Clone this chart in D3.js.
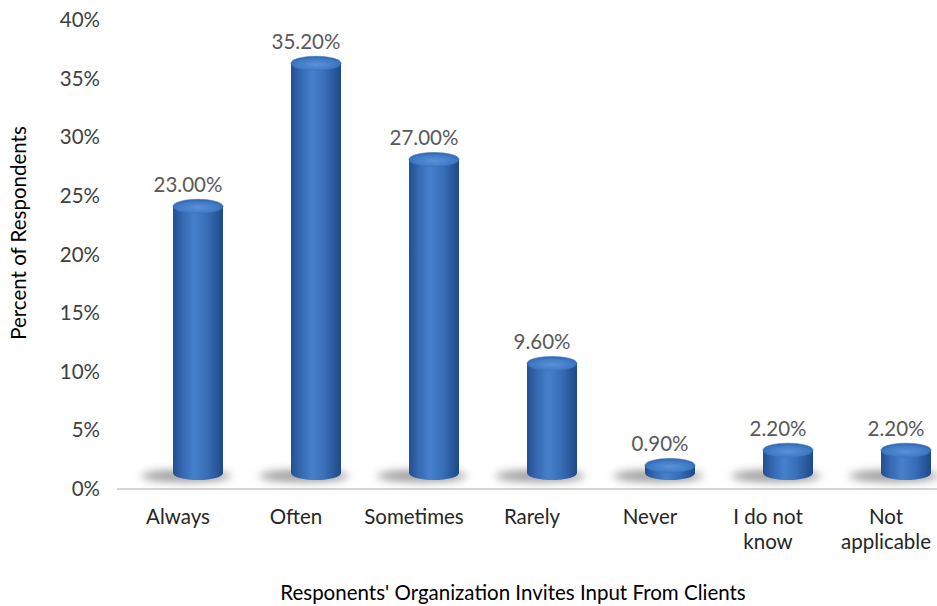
<!DOCTYPE html>
<html>
<head>
<meta charset="utf-8">
<script src="https://cdn.jsdelivr.net/npm/d3@7"></script>
<style>
  html, body { margin: 0; padding: 0; background: #ffffff; }
  svg { display: block; }
  text { font-family: "Lato", "Open Sans", "DejaVu Sans", sans-serif; }
</style>
</head>
<body>
<svg id="chart" width="937" height="606"></svg>
<script>
// Survey responses: how often the respondent's organization invites client input
const categories = ["Always", "Often", "Sometimes", "Rarely", "Never", "I do not know", "Not applicable"];
const categoryLines = [["Always"], ["Often"], ["Sometimes"], ["Rarely"], ["Never"], ["I do not", "know"], ["Not", "applicable"]];
const percentValues = [23.0, 35.2, 27.0, 9.6, 0.9, 2.2, 2.2];
const tickValues = [0, 5, 10, 15, 20, 25, 30, 35, 40];

const svg = d3.select("#chart");
const W = 937, H = 606;
const FS = 20.5;

const x = d3.scaleBand().domain(categories).range([119, 945]).paddingInner(0).paddingOuter(0);
const y = d3.scaleLinear().domain([0, 40]).range([489, 20]);

const defs = svg.append("defs");

// Horizontal shading of the cylinder body
const bodyGrad = defs.append("linearGradient").attr("id", "bodyGrad")
  .attr("x1", "0%").attr("x2", "100%").attr("y1", "0%").attr("y2", "0%");
[["0%", "#244f8e"], ["18%", "#3467b0"], ["42%", "#4680cc"], ["68%", "#386eb8"], ["100%", "#1f4987"]]
  .forEach(([o, c]) => bodyGrad.append("stop").attr("offset", o).attr("stop-color", c));

const topGrad = defs.append("radialGradient").attr("id", "topGrad")
  .attr("cx", "50%").attr("cy", "60%").attr("r", "60%");
[["0%", "#5a92d8"], ["70%", "#3f79c4"], ["100%", "#2d62aa"]]
  .forEach(([o, c]) => topGrad.append("stop").attr("offset", o).attr("stop-color", c));

const blur = defs.append("filter").attr("id", "shadowBlur")
  .attr("x", "-50%").attr("y", "-100%").attr("width", "200%").attr("height", "300%");
blur.append("feGaussianBlur").attr("stdDeviation", 4);

// Y axis tick labels
const yAxis = d3.axisLeft(y).tickValues(tickValues).tickFormat(d => d + "%").tickSize(0).tickPadding(0);
const yg = svg.append("g").attr("transform", "translate(100,0)").call(yAxis);
yg.select(".domain").remove();
yg.selectAll("text").attr("font-size", FS).attr("fill", "#404040")
  .style("font-family", '"Lato", "Open Sans", sans-serif');

// Baseline
svg.append("line").attr("x1", 117).attr("x2", W).attr("y1", y(0)).attr("y2", y(0))
  .attr("stroke", "#d6d6d6").attr("stroke-width", 2);

// Cylinder geometry in the 3D plot
const rx = 25, ry = 7;
const depthX = 20;          // perspective shift of the bars
const topOffset = 13, floorOffset = 16;

const bars = svg.append("g").selectAll("g").data(categories).join("g");

bars.each(function(cat, i) {
  const g = d3.select(this);
  const v = percentValues[i];
  const cx = x(cat) + x.bandwidth() / 2 + depthX;
  const yb = y(0) - floorOffset;
  const yt = y(v) - topOffset;

  // floor shadow
  g.append("ellipse").attr("cx", cx - 12).attr("cy", yb + 3).attr("rx", rx + 20).attr("ry", ry - 1)
    .attr("fill", "#3a3a3a").attr("opacity", 0.5).attr("filter", "url(#shadowBlur)");

  // body
  g.append("path")
    .attr("d", `M${cx - rx},${yt} L${cx - rx},${yb} A${rx},${ry} 0 0 0 ${cx + rx},${yb} L${cx + rx},${yt} Z`)
    .attr("fill", "url(#bodyGrad)");

  // top cap
  g.append("ellipse").attr("cx", cx).attr("cy", yt).attr("rx", rx).attr("ry", ry)
    .attr("fill", "url(#topGrad)").attr("stroke", "#3a72bd").attr("stroke-width", 0.6);
});

// Value labels
svg.append("g").selectAll("text").data(categories).join("text")
  .attr("x", d => x(d) + x.bandwidth() / 2 + 10)
  .attr("y", (d, i) => y(percentValues[i]) - topOffset - ry - 7)
  .attr("text-anchor", "middle")
  .attr("font-size", FS).attr("fill", "#595959")
  .text((d, i) => percentValues[i].toFixed(2) + "%");

// Category labels
const catG = svg.append("g").selectAll("text").data(categories).join("text")
  .attr("text-anchor", "middle").attr("font-size", FS).attr("fill", "#262626");
catG.each(function(d, i) {
  const t = d3.select(this);
  categoryLines[i].forEach((ln, k) => {
    t.append("tspan").attr("x", x(d) + x.bandwidth() / 2).attr("y", 524 + k * 25).text(ln);
  });
});

// Axis titles
svg.append("text").attr("transform", "translate(26,233) rotate(-90)")
  .attr("text-anchor", "middle").attr("font-size", FS).attr("fill", "#000")
  .text("Percent of Respondents");

svg.append("text").attr("x", 513).attr("y", 600)
  .attr("text-anchor", "middle").attr("font-size", FS).attr("fill", "#000")
  .text("Responents' Organization Invites Input From Clients");
</script>
</body>
</html>
